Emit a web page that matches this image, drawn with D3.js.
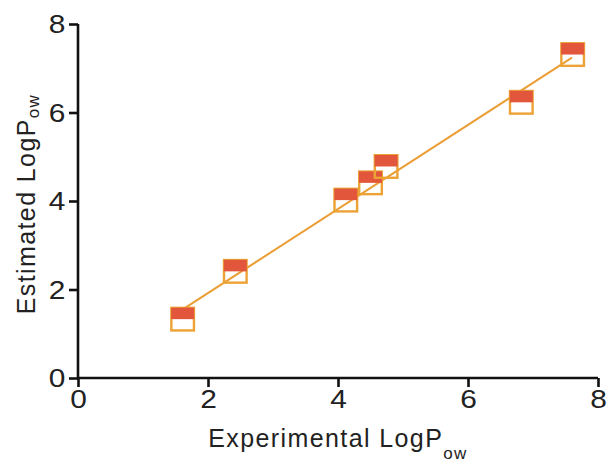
<!DOCTYPE html>
<html><head><meta charset="utf-8">
<script src="https://cdn.jsdelivr.net/npm/d3@7"></script>
<style>body{margin:0;background:#fff}svg{display:block}</style>
</head><body>
<svg id="c" width="609" height="464"></svg>
<script>
const expX = [1.61, 2.42, 4.12, 4.50, 4.74, 6.82, 7.61];
const estY = [1.33, 2.41, 4.02, 4.41, 4.78, 6.23, 7.31];
const fitX = [1.6, 7.6];
const fitY = [1.54, 7.24];
const ticks = [0, 2, 4, 6, 8];

const svg = d3.select("#c");
const x = d3.scaleLinear().domain([0, 8]).range([78, 598]);
const y = d3.scaleLinear().domain([0, 8]).range([378, 24]);
const font = "Liberation Sans, Arial, sans-serif";

const xa = svg.append("g").attr("transform", `translate(0,${y(0)})`)
  .call(d3.axisBottom(x).tickValues(ticks).tickSize(9).tickPadding(3));
const ya = svg.append("g").attr("transform", `translate(${x(0)},0)`)
  .call(d3.axisLeft(y).tickValues(ticks).tickSize(9).tickPadding(2));
[xa, ya].forEach(a => {
  a.select(".domain").attr("stroke", "#111").attr("stroke-width", 2.6);
  a.selectAll(".tick line").attr("stroke", "#111").attr("stroke-width", 2.6);
  a.selectAll(".tick text").attr("fill", "#222").style("font-family", font).style("font-size", "26px");
});
xa.selectAll(".tick text").attr("transform", "scale(1.15,1)");
ya.selectAll(".tick text").attr("transform", "scale(1.15,1)").attr("dy", "0.34em");
xa.select(".domain").attr("d", `M${x(0)},0H${x(8)}`);
ya.select(".domain").attr("d", `M0,${y(0)}V${y(8)}`);

// fit line
svg.append("line")
  .attr("x1", x(fitX[0])).attr("y1", y(fitY[0]))
  .attr("x2", x(fitX[1])).attr("y2", y(fitY[1]))
  .attr("stroke", "#eb9e35").attr("stroke-width", 2);

const s = 25;
const pts = expX.map((v, i) => ({ x: v, y: estY[i] }));
const g = svg.append("g").selectAll("g").data(pts).join("g")
  .attr("transform", d => `translate(${x(d.x)},${y(d.y)})`);
g.append("rect").attr("x", -s/2 + 1.2).attr("y", -s/2 + 1.2).attr("width", s - 2.4).attr("height", s - 2.4)
  .attr("fill", "none").attr("stroke", "#eca235").attr("stroke-width", 2.4);
g.append("rect").attr("x", -s/2 + 1).attr("y", -s/2 + 1).attr("width", s - 2).attr("height", s/2 - 1)
  .attr("fill", "#e2573c");

// titles
const xt = svg.append("text").attr("x", 338).attr("y", 447).attr("text-anchor", "middle")
  .style("font-family", font).style("font-size", "25px").style("letter-spacing", "1.4px").attr("fill", "#222");
xt.append("tspan").text("Experimental LogP");
xt.append("tspan").attr("dy", 12).style("font-size", "17px").text("ow");

const yt = svg.append("text").attr("transform", "translate(35,204) rotate(-90)").attr("text-anchor", "middle")
  .style("font-family", font).style("font-size", "25px").style("letter-spacing", "1.4px").attr("fill", "#222");
yt.append("tspan").text("Estimated LogP");
yt.append("tspan").attr("dy", 4).style("font-size", "17px").text("ow");
</script>
</body></html>
